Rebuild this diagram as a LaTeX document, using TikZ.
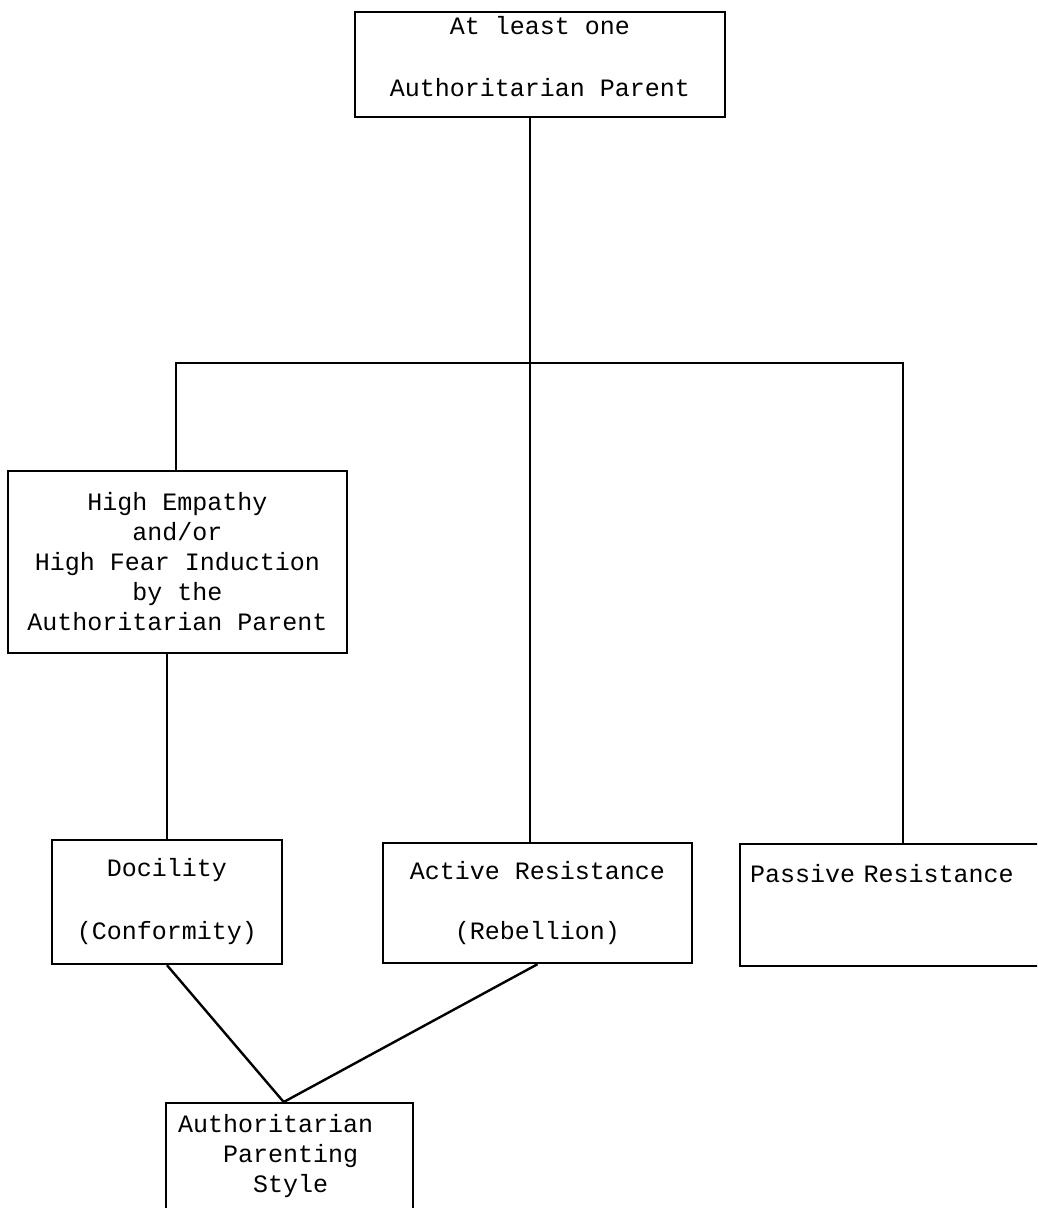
\documentclass[tikz,border=0pt]{standalone}
\usepackage{fontspec}
\newfontfamily\typefont{Liberation Mono}
\usetikzlibrary{positioning}

\begin{document}
\begin{tikzpicture}[x=0.5pt, y=-0.5pt,
    box/.style={draw, line width=1.2pt, align=center, inner sep=0pt, font=\typefont\fontsize{12.5}{15}\selectfont},
    link/.style={line width=1.2pt}]
    \useasboundingbox (0,0) rectangle (1037,1208);
    \clip (0,0) rectangle (1037,1208);

    % Boxes
    \node[box, minimum width=185pt, minimum height=52.5pt, text depth=8.5pt] (parent) at (540,64.5) {At least one\\[16pt]Authoritarian Parent};
    \node[box, minimum width=169.5pt, minimum height=91pt] (empathy) at (177.5,562) {High Empathy\\and/or\\High Fear Induction\\by the\\Authoritarian Parent};
    \node[box, minimum width=115pt, minimum height=62pt] (docility) at (167,902) {Docility\\[16.5pt](Conformity)};
    \node[box, minimum width=154.5pt, minimum height=60pt] (active) at (537.5,903) {Active Resistance\\[15pt](Rebellion)};
    \node[box, anchor=north west, align=left, text width=150.5pt, inner xsep=5pt, inner ysep=11pt, text height=8pt, text depth=31pt] (passive) at (739,843) {Passive Resistance};
    \node[box, anchor=north west, align=left, text width=111.5pt, inner xsep=6pt, inner ysep=5.5pt, text depth=50pt] (style) at (165,1102) {Authoritarian\\\phantom{Aut}Parenting\\\phantom{Autho}Style};

    % Connections
    \coordinate (hub) at (530,363);
    \coordinate (lft) at (176,363);
    \coordinate (rgt) at (903,363);
    \draw[link] (parent.south -| hub) -- (active.north -| hub);
    \draw[link] (empathy.north -| lft) -- (lft) -- (rgt) -- (passive.north -| rgt);
    \draw[link] (empathy.south -| docility.north) -- (docility.north);
    \draw[link] (docility.south) -- ([xshift=-3pt]style.north);
    \draw[link] (active.south) -- ([xshift=-3pt]style.north);
\end{tikzpicture}
\end{document}
